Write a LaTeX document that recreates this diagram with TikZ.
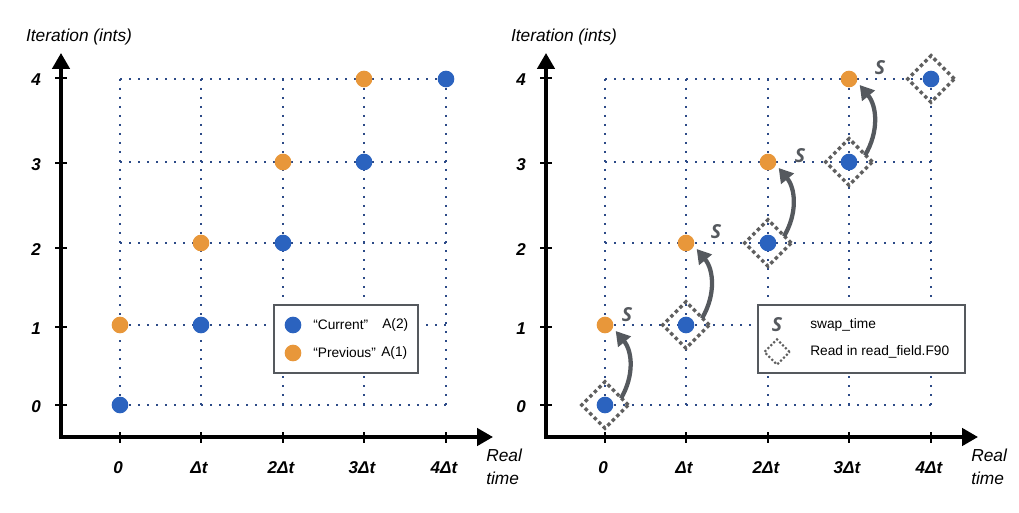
\documentclass[tikz,border=0pt]{standalone}
\usepackage{fontspec}
\setmainfont{Liberation Sans}
\newfontfamily\sfont{Open Sans}
\usetikzlibrary{arrows.meta,shapes.geometric}
\definecolor{cblue}{RGB}{43,99,191}
\definecolor{corange}{RGB}{232,151,58}
\definecolor{gridc}{RGB}{44,74,135}
\definecolor{darkg}{RGB}{85,89,94}
\definecolor{dotg}{RGB}{95,95,95}
\begin{document}
\begin{tikzpicture}[x=0.75pt,y=-0.75pt,
  axis/.style={line width=2.7pt,line join=miter,
    {Triangle[length=12pt,width=13pt]}-{Triangle[length=12pt,width=13pt]}},
  tickmark/.style={line width=1.5pt},
  gridline/.style={gridc,line width=1.6pt,dash pattern=on 1.6pt off 5.15pt},
  bpt/.style={circle,fill=cblue,minimum size=12.5pt,inner sep=0pt},
  opt/.style={circle,fill=corange,minimum size=12.5pt,inner sep=0pt},
  ticklab/.style={font=\fontsize{12.8}{14}\selectfont\bfseries\itshape},
  axlab/.style={font=\fontsize{13}{15}\selectfont\itshape},
  legtext/.style={font=\fontsize{10.3}{13}\selectfont,anchor=west,inner sep=0pt},
  legbox/.style={draw=darkg,fill=white,line width=2.2pt,inner sep=0pt},
  readbox/.style={diamond,draw=dotg,line width=2.6pt,dash pattern=on 2.6pt off 2.2pt,
    minimum width=36pt,minimum height=36pt,inner sep=0pt},
  readsmall/.style={diamond,draw=dotg,line width=1.6pt,dash pattern=on 1.6pt off 1.5pt,
    minimum width=19.5pt,minimum height=19.5pt,inner sep=0pt},
  swaparrow/.style={draw=darkg,line width=3.2pt,-{Triangle[length=10.5pt,width=12pt]}},
  slab/.style={font=\sfont\bfseries\itshape\fontsize{14.5}{15}\selectfont,text=darkg,inner sep=0pt}
]
\useasboundingbox (0,0) rectangle (1019,513);

\foreach \p/\sh in {L/0,R/363.75}{
\begin{scope}[xshift=\sh pt]
  % grid
  \foreach \x in {120,201,283,364,446} \draw[gridline] (\x,79) -- (\x,405);
  \foreach \y in {405,325,243,162,79} \draw[gridline] (120,\y) -- (446,\y);
  % axes
  \draw[axis] (61,53) -- (61,437) -- (493,437);
  \foreach \y/\l in {405/0,327/1,248/2,163/3,78/4}{
    \draw[tickmark] (55,\y) -- (67,\y);
    \node[ticklab] (yl\p\l) at (36,\y+2) {\l};
  }
  \foreach \x/\n/\l in {120/0/0,201/1/Δt,283/2/2Δt,364/3/3Δt,446/4/4Δt}{
    \draw[tickmark] (\x,432) -- (\x,443);
    \node[ticklab] (xl\p\n) at (\x-2,468) {\l};
  }
  \node[axlab] (ya\p) at (79,37) {Iteration (ints)};
  \node[axlab,anchor=west,inner sep=0pt] (xa\p1) at (486,455) {Real};
  \node[axlab,anchor=west,inner sep=0pt] (xa\p2) at (486,478) {time};
  % points
  \node[bpt] (b\p0) at (120,405) {};
  \node[bpt] (b\p1) at (201,325) {};
  \node[bpt] (b\p2) at (283,243) {};
  \node[bpt] (b\p3) at (364,162) {};
  \node[bpt] (b\p4) at (446,79) {};
  \node[opt] (o\p1) at (120,325) {};
  \node[opt] (o\p2) at (201,243) {};
  \node[opt] (o\p3) at (283,162) {};
  \node[opt] (o\p4) at (364,79) {};
\end{scope}
}

% right panel extras
\foreach \i in {0,...,4} \node[readbox] (d\i) at (bR\i) {};
\foreach \i/\j in {0/1,1/2,2/3,3/4}
  \draw[swaparrow] ([xshift=12pt,yshift=5pt]bR\i.center) to[bend right=35] ([xshift=8pt,yshift=-4.5pt]oR\j.center);
\node[slab] (s1) at (627,315) {S};
\node[slab] (s2) at (716,232) {S};
\node[slab] (s3) at (800,156) {S};
\node[slab] (s4) at (880,68) {S};

% left legend
\node[legbox,minimum width=108pt,minimum height=51pt] (legL) at (346,339) {};
\node[bpt] (lb) at (293,325) {};
\node[legtext] (lt1) at (313,325) {“Current”};
\node[legtext] (lt2) at (382,325) {A(2)};
\node[opt] (lo) at (293,353) {};
\node[legtext] (lt3) at (313,353) {“Previous”};
\node[legtext] (lt4) at (381,353) {A(1)};

% right legend
\node[legbox,minimum width=155.25pt,minimum height=51pt] (legR) at (861.5,339) {};
\node[slab] (ls) at (777,325) {S};
\node[legtext] (rt1) at (810,325) {swap\_time};
\node[readsmall] (ld) at (777,352) {};
\node[legtext] (rt2) at (810,352) {Read in read\_field.F90};
\end{tikzpicture}
\end{document}
